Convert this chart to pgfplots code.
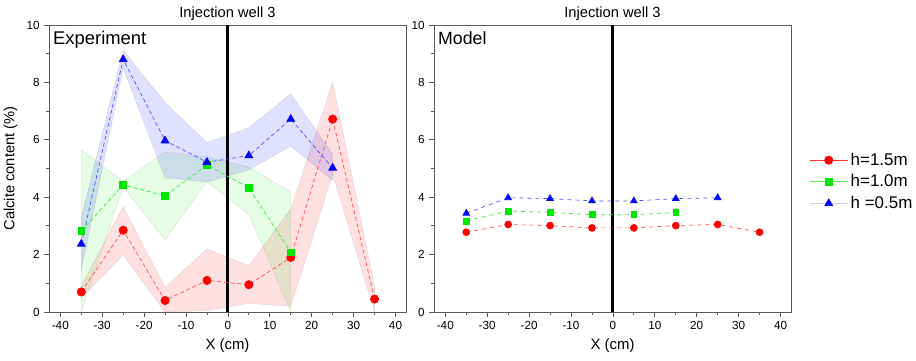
\documentclass[border=0pt]{standalone}
\usepackage{fontspec}
\setmainfont{Liberation Sans}
\usepackage{pgfplots}
\pgfplotsset{compat=1.18}
\definecolor{myred}{RGB}{255,0,0}
\definecolor{mygreen}{RGB}{0,230,0}
\definecolor{myblue}{RGB}{0,0,255}
\definecolor{axgray}{RGB}{90,90,90}
\pgfplotsset{
  common/.style={
    width=267.75pt, height=215.25pt, scale only axis,
    xmin=-42.7, xmax=42.5, ymin=0, ymax=10,
    xtick={-40,-30,...,40}, minor xtick={-35,-25,...,35},
    ytick={0,2,...,10}, minor ytick={1,3,...,9},
    tick pos=left, tick align=outside,
    major tick length=3.5pt, minor tick length=2.5pt,
    axis line style={axgray, line width=0.7pt},
    every tick/.style={axgray, line width=0.6pt},
    ticklabel style={font=\fontsize{8.8}{10}\selectfont},
    /pgf/number format/assume math mode=true,
    title={Injection well 3},
    title style={font=\fontsize{11}{13}\selectfont, inner sep=0pt, yshift=-3pt},
    xlabel={X (cm)},
    xlabel style={font=\fontsize{11.2}{13}\selectfont},
    clip=true,
  },
}
\begin{document}
\begin{tikzpicture}
\useasboundingbox (0,0) rectangle (687pt,270pt);
% ---------------- Experiment ----------------
\begin{axis}[common, at={(36.75pt,36pt)}, anchor=south west,
  ylabel={Calcite content (\%)},
  ylabel style={font=\fontsize{11}{13}\selectfont}]
% bands
\addplot[draw=gray, draw opacity=0.25, line width=0.3pt, fill=myred, fill opacity=0.12] coordinates {
 (-35,0.9) (-25,3.67) (-15,0.85) (-5,2.2) (5,1.6) (15,3.6) (25,8.0) (35,0.9)
 (35,0.0) (25,4.8) (15,0.2) (5,0.3) (-5,0.05) (-15,0.0) (-25,1.98) (-35,0.5)} -- cycle;
\addplot[draw=gray, draw opacity=0.25, line width=0.3pt, fill=mygreen, fill opacity=0.1] coordinates {
 (-35,5.65) (-25,4.55) (-15,5.57) (-5,5.4) (5,5.05) (15,4.18)
 (15,0.0) (5,3.4) (-5,4.55) (-15,2.52) (-25,4.35) (-35,0.0)} -- cycle;
\addplot[draw=gray, draw opacity=0.25, line width=0.3pt, fill=myblue, fill opacity=0.12] coordinates {
 (-35,3.3) (-25,9.12) (-15,7.3) (-5,5.9) (5,6.42) (15,7.6) (25,5.5)
 (25,4.58) (15,5.78) (5,4.95) (-5,4.53) (-15,4.67) (-25,8.5) (-35,1.45)} -- cycle;
% zero line
\addplot[black, line width=2.2pt] coordinates {(0,0) (0,10)};
% series
\addplot[myred!70, densely dashed, line width=0.5pt, mark=*, mark size=3.1pt,
  mark options={solid, fill=myred, draw=myred}] coordinates {
 (-35,0.70) (-25,2.85) (-15,0.40) (-5,1.10) (5,0.95) (15,1.90) (25,6.72) (35,0.45)};
\addplot[mygreen!80, densely dashed, line width=0.5pt, mark=square*, mark size=2.5pt,
  mark options={solid, fill=mygreen, draw=mygreen}] coordinates {
 (-35,2.82) (-25,4.43) (-15,4.05) (-5,5.12) (5,4.33) (15,2.08)};
\addplot[myblue!70, densely dashed, line width=0.5pt, mark=triangle*, mark size=3.4pt,
  mark options={solid, fill=myblue, draw=myblue}] coordinates {
 (-35,2.37) (-25,8.80) (-15,5.97) (-5,5.22) (5,5.45) (15,6.72) (25,5.02)};
\node[anchor=north west, inner sep=0pt, font=\fontsize{13.8}{15}\selectfont] at (rel axis cs:0.011,0.978) {Experiment};
\end{axis}
% ---------------- Model ----------------
\begin{axis}[common, at={(325.5pt,36pt)}, anchor=south west,
  legend style={draw=none, fill=none, inner sep=0pt, at={(1.051,0.564)}, anchor=north west,
    font=\fontsize{12.7}{14}\selectfont, row sep=1.5pt, cells={anchor=west}},
  legend cell align=left,
  legend image code/.code={\draw[mark repeat=2, mark phase=2, #1] plot coordinates {(0cm,0cm) (0.5cm,0cm) (1cm,0cm)};}]
\addplot[black, line width=2.2pt, forget plot] coordinates {(0,0) (0,10)};
\addplot[myred!70, dashed, line width=0.5pt, mark=*, mark size=2.6pt,
  mark options={solid, fill=myred, draw=myred}, forget plot] coordinates {
 (-35,2.78) (-25,3.05) (-15,3.01) (-5,2.93) (5,2.93) (15,3.01) (25,3.05) (35,2.78)};
\addplot[mygreen!80, dashed, line width=0.5pt, mark=square*, mark size=2.2pt,
  mark options={solid, fill=mygreen, draw=mygreen}, forget plot] coordinates {
 (-35,3.17) (-25,3.52) (-15,3.47) (-5,3.39) (5,3.39) (15,3.47)};
\addplot[myblue!70, dashed, line width=0.5pt, mark=triangle*, mark size=2.9pt,
  mark options={solid, fill=myblue, draw=myblue}, forget plot] coordinates {
 (-35,3.44) (-25,3.98) (-15,3.95) (-5,3.87) (5,3.87) (15,3.95) (25,3.98)};
\addlegendimage{myred!80, line width=0.5pt, mark=*, mark size=3.1pt, mark options={fill=myred, draw=myred}}
\addlegendentry{h=1.5m}
\addlegendimage{mygreen!70, line width=0.5pt, mark=square*, mark size=2.5pt, mark options={fill=mygreen, draw=mygreen}}
\addlegendentry{h=1.0m}
\addlegendimage{myblue!20, line width=0.5pt, mark=triangle*, mark size=3.4pt, mark options={fill=myblue, draw=myblue}}
\addlegendentry{h =0.5m}
\node[anchor=north west, inner sep=0pt, font=\fontsize{13.3}{15}\selectfont] at (rel axis cs:0.011,0.978) {Model};
\end{axis}
\end{tikzpicture}
\end{document}
